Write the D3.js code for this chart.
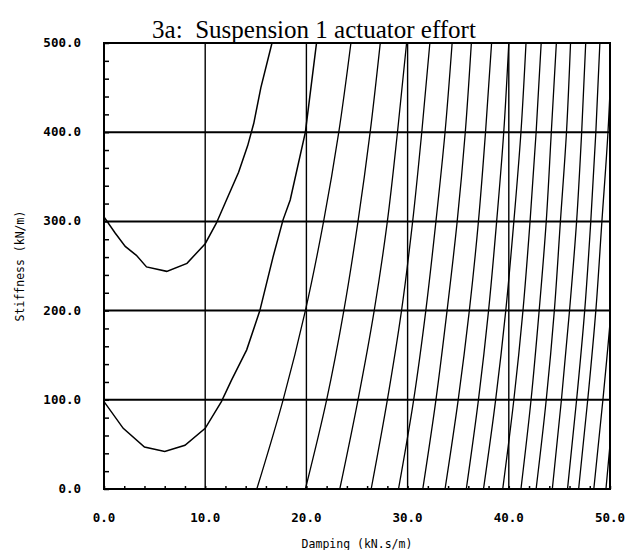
<!DOCTYPE html>
<html><head><meta charset="utf-8">
<script src="https://cdn.jsdelivr.net/npm/d3@7"></script>
<style>body{margin:0;background:#fff}</style>
</head><body><svg id="c" width="625" height="550"></svg>
<script>
// ---- data ----
const titleText = "3a:  Suspension 1 actuator effort";
const xTitle = "Damping (kN.s/m)";
const yTitle = "Stiffness (kN/m)";
const xTicks = [0, 10, 20, 30, 40, 50];
const yTicks = [0, 100, 200, 300, 400, 500];
const xGrid = [10, 20, 30, 40];
const yGrid = [100, 200, 300, 400];

// U-shaped contours: [damping, stiffness]
const upperU = [[0,305],[1.1,287],[2.1,272],[3.2,262],[4.2,249],[6.2,244],[8.2,253],[10.0,275],[11.1,298],[12.1,324],[13.3,355],[14.2,385],[14.8,410],[15.5,450],[16.6,500]];
const lowerU = [[0,98],[1.9,68],[4.0,47],[6.0,42],[8.0,49],[10.0,68],[11.6,98],[12.6,122],[14.1,156],[15.4,200],[16.7,260],[17.7,302],[18.4,324],[19.9,400],[21.0,500]];

// near-vertical contours: damping value at each stiffness level
const levels = [0, 100, 200, 300, 400, 500];
const lineA = [15.1, 17.7, 19.9, 21.7, 23.2, 24.4];
const lineB = [19.9, 22.0, 23.7, 25.1, 26.3, 27.3];
const lineC = [23.3, 25.1, 26.7, 28.0, 29.0, 29.9];
const lineD = [26.4, 28.0, 29.4, 30.5, 31.4, 32.2];
const lineE = [29.1, 30.6, 31.8, 32.8, 33.7, 34.4];
const lineF = [31.5, 32.8, 33.9, 34.9, 35.7, 36.3];
const lineG = [33.7, 35.0, 36.1, 37.0, 37.7, 38.3];
const lineH = [35.8, 37.0, 38.0, 38.8, 39.5, 40.0];
const lineI = [37.5, 38.7, 39.7, 40.5, 41.2, 41.7];
const lineJ = [39.4, 40.5, 41.4, 42.1, 42.7, 43.2];
const lineK = [41.2, 42.2, 43.0, 43.7, 44.2, 44.7];
const lineL = [42.7, 43.7, 44.5, 45.1, 45.7, 46.1];
const lineM = [44.3, 45.2, 46.0, 46.7, 47.2, 47.6];
const lineN = [45.8, 46.7, 47.5, 48.1, 48.6, 49.0];
const lineO = [46.9, 47.8, 48.6, 49.2, 49.8, 50.2];
const lineP = [48.4, 49.3, 50.1, 50.7, 51.2, 51.6];
const lineQ = [49.6, 50.4, 51.1, 51.7, 52.2, 52.6];
const contourLines = [lineA,lineB,lineC,lineD,lineE,lineF,lineG,lineH,lineI,lineJ,lineK,lineL,lineM,lineN,lineO,lineP,lineQ];

// ---- drawing ----
const svg = d3.select("#c");
const L = 104, R = 610, T = 43, B = 489;
const x = d3.scaleLinear().domain([0, 50]).range([L, R]);
const y = d3.scaleLinear().domain([0, 500]).range([B, T]);

svg.append("defs").append("clipPath").attr("id","clip")
  .append("rect").attr("x",L).attr("y",T).attr("width",R-L).attr("height",B-T);

// title
svg.append("text").attr("x", 314).attr("y", 38).attr("text-anchor","middle")
  .style("white-space","pre")
  .attr("font-family","'Liberation Serif', 'Times New Roman', serif").attr("font-size",25)
  .text(titleText);

// grid
svg.append("g").selectAll("line").data(yGrid).join("line")
  .attr("x1",L).attr("x2",R).attr("y1",d=>y(d)).attr("y2",d=>y(d))
  .attr("stroke","#000").attr("stroke-width",2);
svg.append("g").selectAll("line").data(xGrid).join("line")
  .attr("y1",T).attr("y2",B).attr("x1",d=>x(d)).attr("x2",d=>x(d))
  .attr("stroke","#000").attr("stroke-width",1.4);

// contours
const plot = svg.append("g").attr("clip-path","url(#clip)");
const lineGen = d3.line().x(d=>x(d[0])).y(d=>y(d[1]));
[upperU, lowerU].forEach(c => plot.append("path").attr("d", lineGen(c))
  .attr("fill","none").attr("stroke","#000").attr("stroke-width",1.5));
const vLine = d3.line().x(d=>x(d[0])).y(d=>y(d[1])).curve(d3.curveMonotoneY);
contourLines.forEach(arr => plot.append("path")
  .attr("d", vLine(arr.map((v,i)=>[v, levels[i]])))
  .attr("fill","none").attr("stroke","#000").attr("stroke-width",1.3));

// axes (minor inward ticks)
const xAxis = d3.axisBottom(x).tickValues(d3.range(0, 51, 2)).tickSize(-3).tickFormat("");
const yAxis = d3.axisLeft(y).tickValues(d3.range(0, 501, 20)).tickSize(-5).tickFormat("");
svg.append("g").attr("transform",`translate(0,${B})`).call(xAxis)
  .call(g=>g.select(".domain").remove())
  .selectAll("line").attr("stroke","#000").attr("stroke-width",1.5);
svg.append("g").attr("transform",`translate(${L},0)`).call(yAxis)
  .call(g=>g.select(".domain").remove())
  .selectAll("line").attr("stroke","#000").attr("stroke-width",1.5);

// frame
svg.append("rect").attr("x",L).attr("y",T).attr("width",R-L).attr("height",B-T)
  .attr("fill","none").attr("stroke","#000").attr("stroke-width",2);

// tick labels
const lab = "'DejaVu Sans Mono', monospace";
svg.append("g").selectAll("text").data(xTicks).join("text")
  .attr("x",d=>x(d)).attr("y",522).attr("text-anchor","middle")
  .attr("font-family",lab).attr("font-weight","bold").attr("font-size",12.5)
  .text(d=>d.toFixed(1));
svg.append("g").selectAll("text").data(yTicks).join("text")
  .attr("x",81).attr("y",d=>y(d)+4).attr("text-anchor","end")
  .attr("font-family",lab).attr("font-weight","bold").attr("font-size",12.5)
  .text(d=>d.toFixed(1));

// axis titles
svg.append("text").attr("x",(L+R)/2).attr("y",548).attr("text-anchor","middle")
  .attr("font-family",lab).attr("font-size",11.5).text(xTitle);
svg.append("text").attr("transform",`translate(24,${(T+B)/2}) rotate(-90)`)
  .attr("text-anchor","middle")
  .attr("font-family",lab).attr("font-size",11.5).text(yTitle);
</script>
</body></html>
